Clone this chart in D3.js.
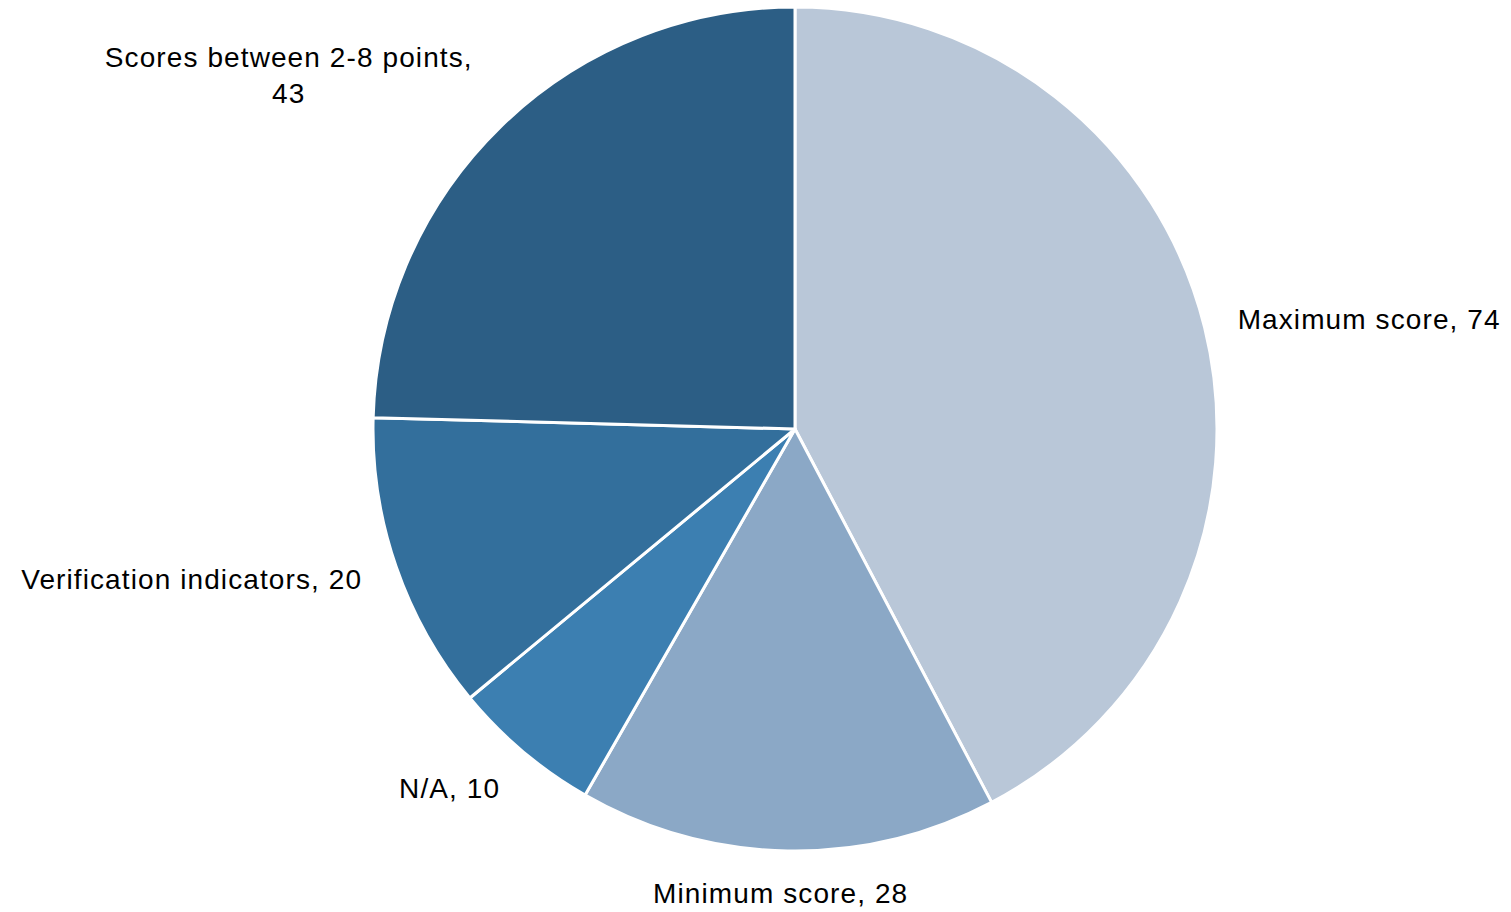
<!DOCTYPE html>
<html>
<head>
<meta charset="utf-8">
<script src="https://cdn.jsdelivr.net/npm/d3@7"></script>
<style>
  html, body { margin: 0; padding: 0; background: #fff; }
  svg { display: block; }
  text { font-family: "Liberation Sans", Arial, sans-serif; fill: #000; }
</style>
</head>
<body>
<svg id="chart" width="1511" height="912"></svg>
<script>
// ---- data ----
const categories = ["Maximum score", "Minimum score", "N/A", "Verification indicators", "Scores between 2-8 points"];
const values = [74, 28, 10, 20, 43];
const colors = ["#b9c7d8", "#8ba8c6", "#3c7fb1", "#336f9c", "#2c5e85"];
// label text lines (wrapping as in the reference)
const labelLines = [
  ["Maximum score, 74"],
  ["Minimum score, 28"],
  ["N/A, 10"],
  ["Verification indicators, 20"],
  ["Scores between 2-8 points,", "43"]
];

// ---- layout ----
const W = 1511, H = 912;
const cx = 795, cy = 429, R = 422;
const labelGap = 45;
const labelRadiusExtra = [-11, -3, 3, -7, 18];
const labelNudgeX = [0, -6, 8, 2, 16];
const labelNudgeY = [0, 0, 0, 0, -6];
const fontSize = 28, lineH = 36, letterSp = 1.1;

const svg = d3.select("#chart");
const g = svg.append("g").attr("transform", `translate(${cx},${cy})`);

const data = categories.map((c, i) => ({ name: c, value: values[i], color: colors[i], lines: labelLines[i] }));

const pie = d3.pie().value(d => d.value).sort(null).startAngle(0).endAngle(2 * Math.PI);
const arcs = pie(data);
const arc = d3.arc().innerRadius(0).outerRadius(R);

g.selectAll("path.slice")
  .data(arcs)
  .join("path")
  .attr("class", "slice")
  .attr("d", arc)
  .attr("fill", d => d.data.color)
  .attr("stroke", "#fff")
  .attr("stroke-width", 3)
  .attr("stroke-linejoin", "round");

// labels
arcs.forEach((d, i) => {
  const lr = R + labelGap + labelRadiusExtra[i];
  const la = d3.arc().innerRadius(lr).outerRadius(lr);
  let [x, y] = la.centroid(d);
  x += labelNudgeX[i];
  y += labelNudgeY[i];
  const mid = (d.startAngle + d.endAngle) / 2;
  const s = Math.sin(mid);
  const lines = d.data.lines;
  const t = g.append("text").attr("font-size", fontSize).attr("letter-spacing", letterSp);
  const widths = lines.map(l => {
    const tmp = g.append("text").attr("font-size", fontSize).attr("letter-spacing", letterSp).text(l);
    const w = tmp.node().getComputedTextLength();
    tmp.remove();
    return w;
  });
  const bw = d3.max(widths);
  let left;
  if (s > 0.1) left = x;
  else if (s < -0.1) left = x - bw;
  else left = x - bw / 2;
  const bcx = left + bw / 2;
  const blockH = lines.length * lineH;
  const top = y - blockH / 2;
  lines.forEach((l, k) => {
    t.append("tspan")
      .attr("x", bcx)
      .attr("y", top + k * lineH + lineH / 2)
      .attr("dy", "0.35em")
      .attr("text-anchor", "middle")
      .text(l);
  });
});
</script>
</body>
</html>
